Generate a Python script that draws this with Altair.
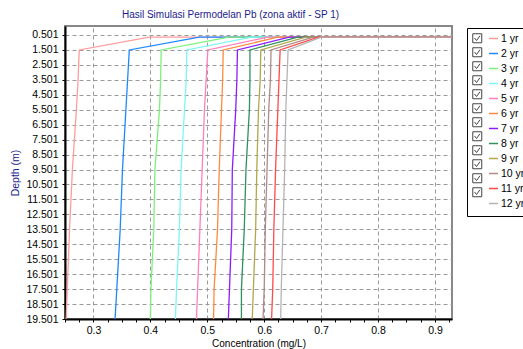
import altair as alt
import pandas as pd

FONT = "Liberation Sans"
NAVY = "#1c1c8c"

series = ["1 yr", "2 yr", "3 yr", "4 yr", "5 yr", "6 yr",
          "7 yr", "8 yr", "9 yr", "10 yr", "11 yr", "12 yr"]
boxes = ["cb1", "cb2", "cb3", "cb4", "cb5", "cb6",
         "cb7", "cb8", "cb9", "cb10", "cb11", "cb12"]
colors = ["#ff9c9c", "#1e88ff", "#7cf07c", "#7cf6f6", "#ff7fbf", "#ff8a3d",
          "#8a1cff", "#2f9060", "#b0a84a", "#b08a8a", "#ff4a4a", "#b4b4b4"]

# surface layer (depth of the top point) and the boundary concentration
surface_depth = 0.65
surface_conc = 0.93
top_conc = [0.398, 0.486, 0.538, 0.578, 0.606, 0.624,
            0.644, 0.659, 0.673, 0.686, 0.695, 0.700]

depths = [1.501, 3.501, 5.501, 9.501, 13.501, 17.501, 19.501]
yr1 = [0.275, 0.273, 0.270, 0.263, 0.258, 0.254, 0.252]
yr2 = [0.363, 0.360, 0.357, 0.351, 0.347, 0.341, 0.338]
yr3 = [0.419, 0.418, 0.416, 0.408, 0.406, 0.401, 0.400]
yr4 = [0.464, 0.463, 0.460, 0.454, 0.451, 0.446, 0.444]
yr5 = [0.501, 0.498, 0.495, 0.491, 0.487, 0.483, 0.481]
yr6 = [0.528, 0.527, 0.525, 0.521, 0.518, 0.512, 0.511]
yr7 = [0.553, 0.552, 0.550, 0.544, 0.543, 0.539, 0.537]
yr8 = [0.575, 0.575, 0.574, 0.568, 0.565, 0.560, 0.560]
yr9 = [0.594, 0.593, 0.590, 0.587, 0.585, 0.581, 0.579]
yr10 = [0.612, 0.611, 0.608, 0.605, 0.602, 0.600, 0.598]
yr11 = [0.628, 0.626, 0.624, 0.620, 0.617, 0.615, 0.613]
yr12 = [0.642, 0.640, 0.638, 0.636, 0.633, 0.630, 0.629]
profiles = [yr1, yr2, yr3, yr4, yr5, yr6, yr7, yr8, yr9, yr10, yr11, yr12]

y_ticks = [0.501 + i for i in range(20)]
x_ticks = [round(0.25 + 0.025 * i, 3) for i in range(28)]

rows = []
for s, b, top, prof in zip(series, boxes, top_conc, profiles):
    rows.append(dict(series=s, box=b, step=0, conc=surface_conc, depth=surface_depth))
    rows.append(dict(series=s, box=b, step=1, conc=top, depth=surface_depth))
    for k, (d, c) in enumerate(zip(depths, prof)):
        rows.append(dict(series=s, box=b, step=k + 2, conc=c, depth=d))
df = pd.DataFrame(rows)

major = "abs(datum.value*10 - round(datum.value*10)) < 0.001"
checkbox = "M-1,-1H1V1H-1Z M-0.6,-0.05L-0.15,0.5L0.6,-0.55"
dash = "M-1,-1M-1,0H1M1,1"

xscale = alt.Scale(domain=[0.25, 0.93], nice=False, zero=False)
yscale = alt.Scale(domain=[-0.1, 19.501], reverse=True, nice=False, zero=False)

x_enc = alt.X("conc:Q", scale=xscale, axis=alt.Axis(
    values=x_ticks,
    labelExpr=f"{major} ? format(datum.value, '.1f') : ''",
    title="Concentration (mg/L)",
    grid=True,
    gridOpacity={"condition": {"test": major, "value": 1}, "value": 0},
    gridDash=[4, 3], gridColor="#9a9a9a", gridWidth=1,
    tickSize=3, tickColor="#000", domainColor="#000", domainWidth=2,
    labelOverlap=False, labelFlush=False,
    labelFont=FONT, labelFontSize=10.5, labelColor="#000", labelPadding=3,
    titleFont=FONT, titleFontSize=10, titleFontWeight="normal",
    titleColor="#000", titlePadding=3,
))
y_enc = alt.Y("depth:Q", scale=yscale, axis=alt.Axis(
    values=y_ticks, format=".3f", title="Depth (m)",
    grid=True, gridDash=[4, 3], gridColor="#9a9a9a", gridWidth=1,
    tickSize=3, tickColor="#000", domainColor="#000", domainWidth=2,
    labelOverlap=False, labelFlush=False,
    labelFont=FONT, labelFontSize=10.5, labelColor="#000", labelPadding=4,
    titleFont=FONT, titleFontSize=10.5, titleFontWeight="normal",
    titleColor=NAVY, titlePadding=5,
))

ROWPAD = 0
SYM = 81

lines = alt.Chart(df).mark_line(strokeWidth=1.3, clip=True).encode(
    x=x_enc,
    y=y_enc,
    color=alt.Color("series:N", scale=alt.Scale(domain=series, range=colors),
                    legend=alt.Legend(
                        orient="none", legendX=402, legendY=2, title=None,
                        padding=5, strokeColor="#000",
                        symbolType=dash, symbolSize=SYM, symbolStrokeWidth=1.5,
                        symbolOffset=16, labelOffset=2,
                        labelFont=FONT, labelFontSize=10.5, labelColor="#000",
                        rowPadding=ROWPAD)),
    order="step:Q",
)

checks = alt.Chart(df).mark_point(opacity=0, filled=False, color="#444", strokeWidth=1).encode(
    x=x_enc,
    y=y_enc,
    shape=alt.Shape("box:N",
                    scale=alt.Scale(domain=boxes, range=[checkbox] * len(boxes)),
                    legend=alt.Legend(
                        orient="none", legendX=402, legendY=2, title=None,
                        padding=5, symbolSize=SYM, symbolStrokeWidth=1,
                        symbolOpacity=1, symbolStrokeColor="#444",
                        labelExpr="' '", labelOpacity=0,
                        labelFont=FONT, labelFontSize=10.5,
                        rowPadding=ROWPAD)),
)

chart = alt.layer(lines, checks).properties(
    width=387, height=293,
    padding={"left": 65, "top": 26, "right": 71, "bottom": 30},
    autosize=alt.AutoSizeParams(type="none"),
    background="white",
    title=alt.TitleParams(
        "Hasil Simulasi Permodelan Pb (zona aktif - SP 1)",
        font=FONT, fontSize=10, fontWeight="normal", color=NAVY,
        anchor="middle", frame="group", dx=-28, dy=10, offset=8, baseline="alphabetic"),
).configure_view(stroke="#888", strokeWidth=2)

chart.save("out.html", embed_options={"renderer": "svg", "actions": False})
